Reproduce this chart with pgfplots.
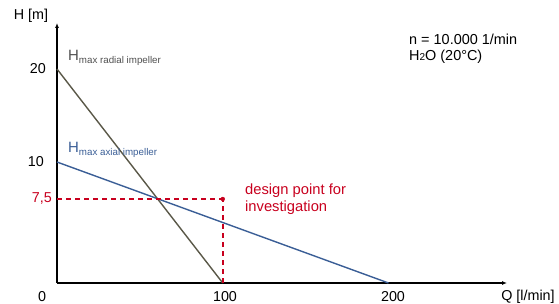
\documentclass[border=0pt]{standalone}
\usepackage{pgfplots}
\pgfplotsset{compat=1.18}
\usepackage{fontspec}
\setmainfont{Liberation Sans}
\usetikzlibrary{arrows.meta}
\definecolor{radialc}{HTML}{5A5848}
\definecolor{axialc}{HTML}{3A5E96}
\definecolor{designred}{HTML}{C8001E}
\definecolor{labgray}{HTML}{505050}
\begin{document}
\begin{tikzpicture}
\useasboundingbox (0,0) rectangle (559bp,304bp);
\begin{axis}[
  at={(57bp,21bp)}, anchor=south west,
  scale only axis, width=450bp, height=260bp,
  xmin=0, xmax=271.5, ymin=0, ymax=24.95,
  y coord trafo/.code={\pgfmathparse{#1<=7.5 ? 11.2*#1 : (#1<=10 ? 84+(#1-7.5)*14.8 : 121+(#1-10)*9.3)}},
  y coord inv trafo/.code={\pgfmathparse{#1}},
  axis lines=left,
  axis line style={line width=1.1bp, black, -{Latex[length=5bp,width=4bp]}},
  xtick=\empty, ytick=\empty,
  enlargelimits=false, clip=false,
]
\addplot[radialc, line width=1.4bp] coordinates {(0,20) (100,0)};
\addplot[axialc, line width=1.4bp] coordinates {(0,10) (200,0)};
\addplot[designred, line width=1.4bp, dash pattern=on 5bp off 4bp] coordinates {(0,7.5) (100,7.5)};
\addplot[designred, line width=1.6bp, dash pattern=on 5bp off 4bp] coordinates {(100,0) (100,7.5)};
\addplot[designred, only marks, mark=*, mark size=2bp, mark options={draw=designred, fill=designred}] coordinates {(100,7.5)};
\end{axis}
\fontsize{14.4}{16}\selectfont
\node at (31bp,288bp) {H [m]};
\node[anchor=east, inner sep=0pt] at (46bp,235bp) {20};
\node[anchor=east, inner sep=0pt] at (44bp,142bp) {10};
\node[anchor=east, inner sep=0pt, text=designred] at (52bp,106bp) {7,5};
\node[inner sep=0pt] at (42bp,7bp) {0};
\node[inner sep=0pt] at (225bp,7bp) {100};
\node[inner sep=0pt] at (393bp,7bp) {200};
\node[inner sep=0pt] at (528bp,7bp) {Q [l/min]};
\node[anchor=base west, inner sep=0pt, text=labgray] at (68bp,243bp)
  {{\fontsize{15}{15}\selectfont H}\raisebox{-2.5bp}{\fontsize{9.8}{10}\selectfont max radial impeller}};
\node[anchor=base west, inner sep=0pt, text=axialc] at (68bp,151bp)
  {{\fontsize{15}{15}\selectfont H}\raisebox{-2.5bp}{\fontsize{9.8}{10}\selectfont max axial impeller}};
\node[anchor=base west, inner sep=0pt] at (409bp,259bp) {\fontsize{14.5}{16}\selectfont n = 10.000 1/min};
\node[anchor=base west, inner sep=0pt] at (409bp,243bp) {\fontsize{14.5}{16}\selectfont H{\fontsize{10}{10}\selectfont 2}O (20°C)};
\node[anchor=base west, inner sep=0pt, text=designred] at (245bp,109bp) {\fontsize{14.8}{16}\selectfont design point for};
\node[anchor=base west, inner sep=0pt, text=designred] at (245bp,92bp) {\fontsize{14.8}{16}\selectfont investigation};
\end{tikzpicture}
\end{document}
